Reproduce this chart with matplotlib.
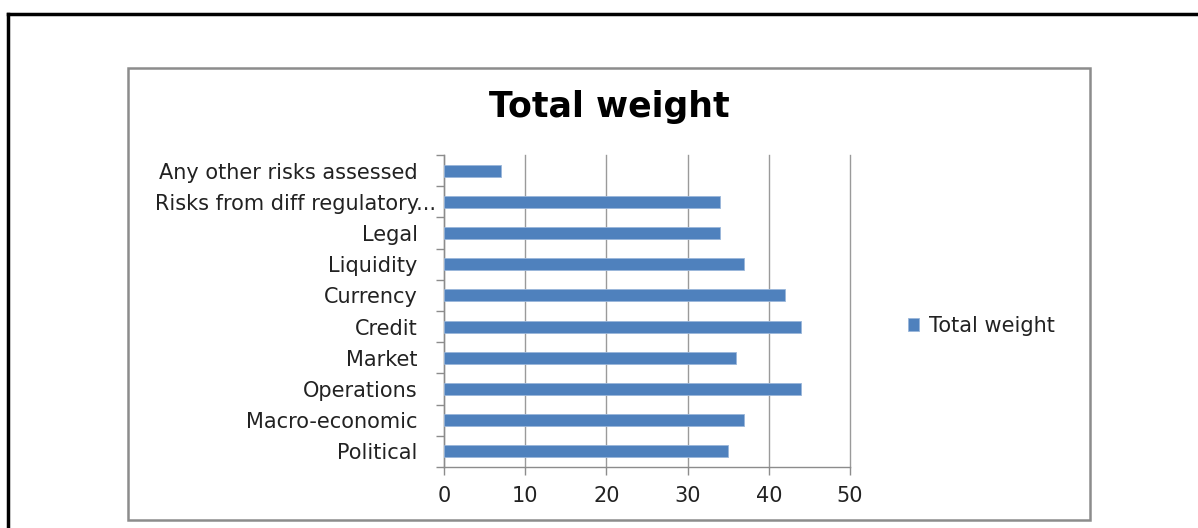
import matplotlib.pyplot as plt
import matplotlib.transforms as mtransforms
from matplotlib.patches import Rectangle
from matplotlib.lines import Line2D

# risk categories, bottom to top
categories = ['Political', 'Macro-economic', 'Operations', 'Market', 'Credit',
              'Currency', 'Liquidity', 'Legal', 'Risks from diff regulatory...',
              'Any other risks assessed']
weights = [35, 37, 44, 36, 44, 42, 37, 34, 34, 7]
x_ticks = [0, 10, 20, 30, 40, 50]

plt.rcParams['font.family'] = ['DejaVu Sans']

W, H = 1198, 528
fig = plt.figure(figsize=(W / 100, H / 100), dpi=100)

# outer black frame (only left and top visible in the crop)
fig.add_artist(Line2D([8 / W, 8 / W], [0, 1 - 14 / H], color='black', lw=2.5,
                      transform=fig.transFigure))
fig.add_artist(Line2D([8 / W, 1], [1 - 14 / H, 1 - 14 / H], color='black', lw=2.5,
                      transform=fig.transFigure))

# grey chart area box
fig.add_artist(Rectangle((128 / W, 1 - 520 / H), (1090 - 128) / W, (520 - 68) / H,
                         transform=fig.transFigure, fill=False, edgecolor='#8c8c8c', lw=1.8))

ax = fig.add_axes([444 / W, 1 - 467 / H, (850 - 444) / W, (467 - 155) / H])
y = list(range(len(categories)))
ax.barh(y, weights, height=0.38, color='#4f81bd', edgecolor='#9ab6da', linewidth=0.6,
        label='Total weight', zorder=3)

ax.set_xlim(0, 50)
ax.set_ylim(-0.5, len(categories) - 0.5)
ax.set_xticks(x_ticks)
ax.set_xticklabels([str(t) for t in x_ticks], fontsize=15, color='#222222')
ax.set_yticks(y)
ax.set_yticklabels(categories, fontsize=15, color='#222222')
ax.set_yticks([i - 0.5 for i in range(len(categories) + 1)], minor=True)
ax.tick_params(axis='y', which='major', length=0, pad=19)
ax.tick_params(axis='y', which='minor', length=6, color='#8c8c8c', width=1)
ax.tick_params(axis='x', length=6, color='#8c8c8c', width=1, pad=8)

# the truncated label sits closer to the axis in the original
lbl = ax.get_yticklabels()[8]
lbl.set_transform(lbl.get_transform() +
                  mtransforms.ScaledTranslation(18 / 100, 0, fig.dpi_scale_trans))

ax.grid(axis='x', color='#9a9a9a', lw=1, zorder=0)
for gl in ax.get_xgridlines():
    gl.set_clip_on(False)
for s in ['top', 'right']:
    ax.spines[s].set_visible(False)
for s in ['left', 'bottom']:
    ax.spines[s].set_color('#8c8c8c')
    ax.spines[s].set_linewidth(1)

fig.text(609 / W, 1 - 107 / H, 'Total weight', ha='center', va='center',
         fontsize=25, fontweight='bold', color='black')

fig.legend(loc='center left', bbox_to_anchor=(889 / W, 1 - 326 / H), frameon=False,
           fontsize=15, handlelength=0.55, handleheight=0.55, handletextpad=0.45,
           labelcolor='#222222')

fig.savefig('out.png', dpi=100)
